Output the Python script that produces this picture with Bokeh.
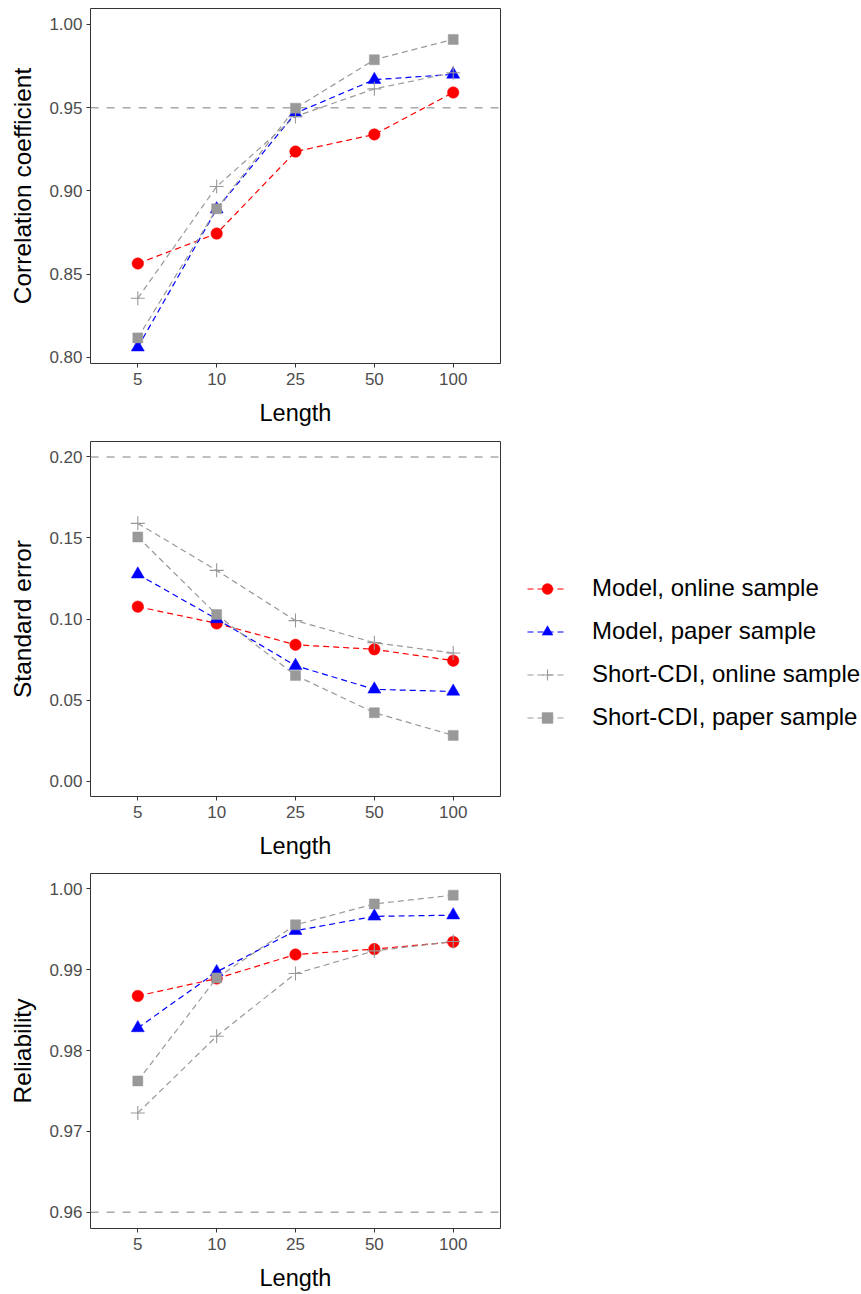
from bokeh.plotting import figure
from bokeh.models import (FactorRange, Range1d, FixedTicker, PrintfTickFormatter,
                          Span, Legend, LegendItem)
from bokeh.layouts import column
from bokeh.embed import file_html
from bokeh.resources import INLINE

lengths = ["5", "10", "25", "50", "100"]
series_names = ["Model, online sample", "Model, paper sample",
                "Short-CDI, online sample", "Short-CDI, paper sample"]

corr_model_online = [0.8563, 0.8743, 0.9236, 0.9339, 0.9591]
corr_model_paper = [0.8060, 0.8890, 0.9467, 0.9668, 0.9700]
corr_short_online = [0.8354, 0.9026, 0.9447, 0.9613, 0.9710]
corr_short_paper = [0.8116, 0.8892, 0.9497, 0.9788, 0.9910]

se_model_online = [0.1076, 0.0973, 0.0841, 0.0813, 0.0743]
se_model_paper = [0.1276, 0.1000, 0.0712, 0.0566, 0.0553]
se_short_online = [0.1590, 0.1300, 0.0990, 0.0854, 0.0790]
se_short_paper = [0.1506, 0.1027, 0.0652, 0.0422, 0.0282]

rel_model_online = [0.98676, 0.98891, 0.99188, 0.99255, 0.99344]
rel_model_paper = [0.98280, 0.98973, 0.99483, 0.99660, 0.99675]
rel_short_online = [0.97229, 0.98178, 0.98953, 0.99233, 0.99349]
rel_short_paper = [0.97625, 0.98899, 0.99555, 0.99814, 0.99922]

panels = [
    dict(title="Correlation coefficient", data=[corr_model_online, corr_model_paper, corr_short_online, corr_short_paper],
         yr=(0.7962, 1.0096), ticks=[0.80, 0.85, 0.90, 0.95, 1.00], hline=0.95),
    dict(title="Standard error", data=[se_model_online, se_model_paper, se_short_online, se_short_paper],
         yr=(-0.0095, 0.2095), ticks=[0.00, 0.05, 0.10, 0.15, 0.20], hline=0.20),
    dict(title="Reliability", data=[rel_model_online, rel_model_paper, rel_short_online, rel_short_paper],
         yr=(0.9580, 1.0019), ticks=[0.96, 0.97, 0.98, 0.99, 1.00], hline=0.96),
]

colors = ["#FF0000", "#0000FF", "#999999", "#999999"]
markers = ["circle", "triangle", "cross", "square"]
msizes = [11.5, 13, 14, 10]
FONT = "Liberation Sans"

figs = []
for i, pan in enumerate(panels):
    top = 7 if i == 2 else 8
    bottom = 66 if i == 2 else 70
    right = 361 if i == 1 else 10
    p = figure(x_range=FactorRange(*lengths, range_padding=0.04),
               y_range=Range1d(*pan["yr"]),
               frame_width=410, frame_height=355,
               min_border_left=90, min_border_right=right,
               min_border_top=top, min_border_bottom=bottom,
               output_backend="svg", toolbar_location=None)
    p.xgrid.visible = False
    p.ygrid.visible = False
    p.outline_line_color = "#333333"
    p.outline_line_width = 1
    p.background_fill_color = "white"
    p.border_fill_color = "white"
    for ax in (p.xaxis[0], p.yaxis[0]):
        ax.axis_line_color = None
        ax.major_tick_line_color = "#333333"
        ax.major_tick_in = 0
        ax.major_tick_out = 4
        ax.minor_tick_line_color = None
        ax.major_label_text_font = FONT
        ax.major_label_text_font_size = "17px"
        ax.major_label_text_color = "#4D4D4D"
        ax.axis_label_text_font = FONT
        ax.axis_label_text_font_style = "normal"
        ax.axis_label_text_color = "black"
    p.xaxis.axis_label_text_font_size = "23.5px"
    p.yaxis.axis_label_text_font_size = "24.5px"
    p.xaxis.axis_label = "Length"
    p.xaxis.major_label_standoff = 5
    p.xaxis.axis_label_standoff = 12
    p.yaxis.axis_label = pan["title"]
    p.yaxis.major_label_standoff = 4
    p.yaxis.axis_label_standoff = 10
    p.yaxis.ticker = FixedTicker(ticks=pan["ticks"])
    p.yaxis.formatter = PrintfTickFormatter(format="%.2f")

    p.add_layout(Span(location=pan["hline"], dimension="width", line_color="#AAAAAA",
                      line_dash="8 8", line_width=1.5, level="underlay"))

    lines = []
    for k, ys in enumerate(pan["data"]):
        lines.append(p.line(lengths, ys, line_color=colors[k], line_width=1.2, line_dash="6 4"))
    pts = []
    for k, ys in enumerate(pan["data"]):
        if markers[k] == "cross":
            pts.append(p.scatter(lengths, ys, marker="cross", size=msizes[k],
                                 line_color=colors[k], line_width=1.1))
        else:
            pts.append(p.scatter(lengths, ys, marker=markers[k], size=msizes[k],
                                 fill_color=colors[k], line_color=colors[k], line_width=0.5))
    if i == 1:
        items = [LegendItem(label=series_names[k], renderers=[lines[k], pts[k]]) for k in range(4)]
        leg = Legend(items=items, location=(27, 65), orientation="vertical",
                     border_line_color=None, background_fill_alpha=0,
                     padding=0, margin=0, spacing=15,
                     glyph_width=40, glyph_height=27, label_height=27, label_standoff=25,
                     label_text_font=FONT, label_text_font_size="24px",
                     label_text_color="black")
        p.add_layout(leg, "right")
    figs.append(p)

layout = column(*figs, spacing=0)
open("out.html", "w").write(file_html(layout, INLINE))
